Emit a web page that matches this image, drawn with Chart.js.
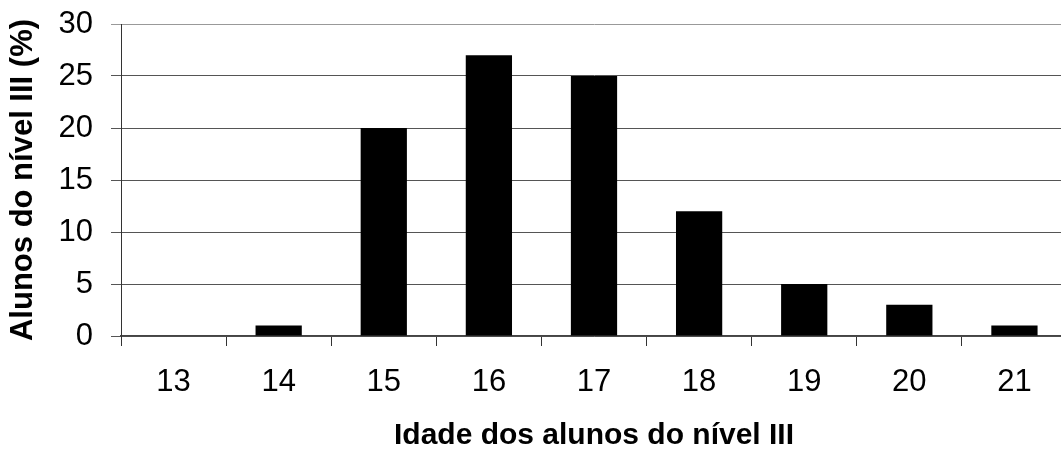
<!DOCTYPE html>
<html>
<head>
<meta charset="utf-8">
<script src="https://cdn.jsdelivr.net/npm/chart.js@4/dist/chart.umd.min.js"></script>
<style>
  html, body { margin: 0; padding: 0; background: #fff; overflow: hidden; }
  #wrap { width: 1068px; height: 452px; }
</style>
</head>
<body>
<div id="wrap"><canvas id="myChart" width="1068" height="452"></canvas></div>
<script>
const ages = ["13", "14", "15", "16", "17", "18", "19", "20", "21"];
const percentages = [0, 1, 20, 27, 25, 12, 5, 3, 1];
const yTicks = [0, 5, 10, 15, 20, 25, 30];

const fontName = "'Liberation Sans', Arial, sans-serif";

const ctx = document.getElementById("myChart").getContext("2d");

new Chart(ctx, {
  type: "bar",
  data: {
    labels: ages,
    datasets: [{
      label: "Alunos do nível III (%)",
      data: percentages,
      backgroundColor: "#000",
      borderWidth: 0,
      barPercentage: 0.44,
      categoryPercentage: 1
    }]
  },
  options: {
    responsive: false,
    animation: false,
    layout: { padding: { top: 24, right: 1, bottom: 0, left: 0 } },
    plugins: {
      legend: { display: false },
      tooltip: { enabled: false }
    },
    scales: {
      x: {
        offset: true,
        border: { color: "#444", width: 1.5 },
        grid: { offset: true, drawOnChartArea: false, tickLength: 10, color: "#333", lineWidth: 1 },
        ticks: { color: "#000", font: { family: fontName, size: 31 }, padding: 18, maxRotation: 0 },
        title: {
          display: true,
          text: "Idade dos alunos do nível III",
          color: "#000",
          font: { family: fontName, size: 30, weight: "bold", lineHeight: 1 },
          padding: { top: 0, bottom: 1 }
        },
        afterFit: axis => { axis.height = 116; }
      },
      y: {
        min: 0,
        max: 30,
        afterBuildTicks: axis => { axis.ticks = yTicks.map(v => ({ value: v })); },
        border: { color: "#333", width: 1 },
        grid: {
          color: c => (c.tick && c.tick.value === 30 ? "#999" : "#555"),
          lineWidth: 1,
          tickLength: 10
        },
        ticks: { color: "#000", font: { family: fontName, size: 31 }, padding: 18 },
        title: {
          display: true,
          text: "Alunos do nível III (%)",
          color: "#000",
          font: { family: fontName, size: 31, weight: "bold", lineHeight: 1 },
          padding: { top: 8, bottom: 0 }
        },
        afterFit: axis => {
          axis.width = 121;
          axis.paddingTop = 0;
          axis.paddingBottom = 0;
        }
      }
    }
  }
});
</script>
</body>
</html>
